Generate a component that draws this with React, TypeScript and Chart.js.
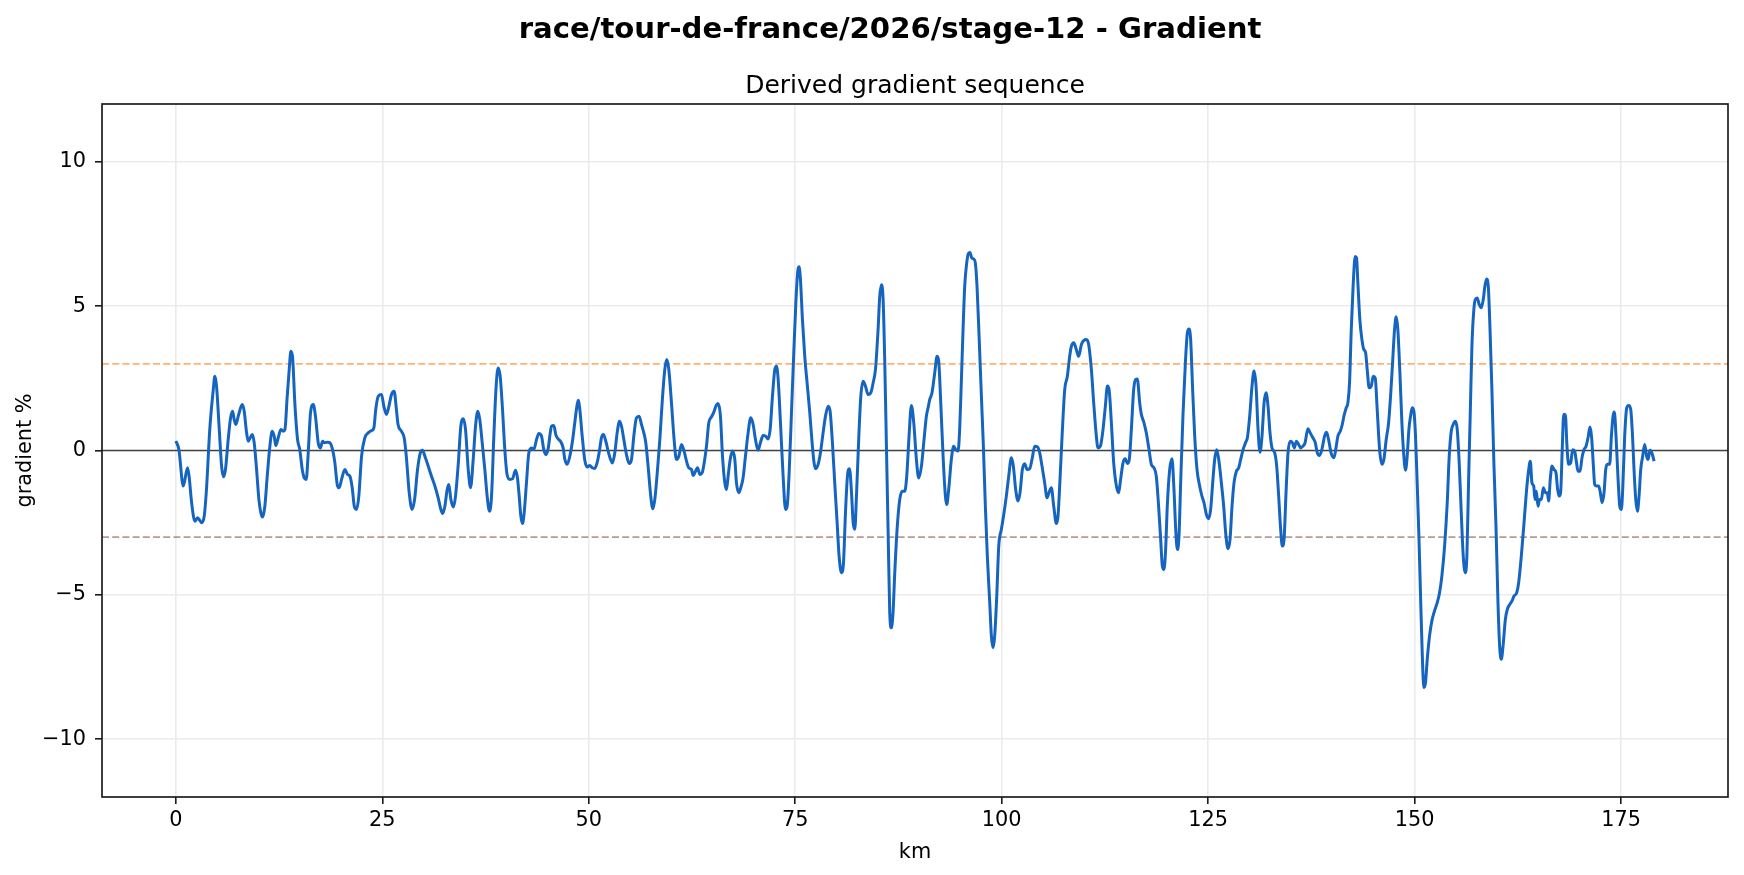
import React, { useEffect, useRef } from "react";
import { Chart, registerables } from "chart.js";

Chart.register(...registerables);

const chartTitle = "race/tour-de-france/2026/stage-12 - Gradient";
const chartSubtitle = "Derived gradient sequence";
const xAxisLabel = "km";
const yAxisLabel = "gradient %";

const xTicks = [0, 25, 50, 75, 100, 125, 150, 175];
const yTicks = [-10, -5, 0, 5, 10];
const thresholdHigh = 3;
const thresholdLow = -3;

const kmValues = [
  0, 0.36, 0.89, 1.41, 1.6, 1.9, 2.3, 2.62, 2.82, 3.1, 3.43, 3.7, 4.1, 4.52, 4.72, 4.92, 5.25, 5.53, 5.77, 6.0,
  6.33, 6.62, 6.86, 7.06, 7.26, 7.55, 8.03, 8.27, 8.56, 8.76, 9.0, 9.24, 9.48, 9.77, 10.05, 10.29, 10.5, 10.77, 11.06, 11.38,
  11.66, 11.9, 12.1, 12.39, 12.71, 12.99, 13.2, 13.48, 13.72, 13.92, 14.12, 14.4, 14.73, 15.0, 15.3, 15.54, 15.78, 16.0, 16.3, 16.63,
  16.9, 17.23, 17.5, 17.76, 18.0, 18.36, 18.64, 18.97, 19.25, 19.57, 19.77, 20.06, 20.46, 20.78, 21.07, 21.35, 21.6, 21.87, 22.15, 22.48,
  22.88, 23.28, 23.69, 23.97, 24.2, 24.5, 24.9, 25.18, 25.5, 25.79, 26.11, 26.43, 26.7, 26.9, 27.3, 27.64, 27.9, 28.25, 28.6, 28.9,
  29.26, 29.58, 29.86, 30.15, 30.55, 30.95, 31.36, 31.76, 32.08, 32.3, 32.57, 32.85, 33.05, 33.3, 33.6, 33.86, 34.2, 34.5, 34.8, 35.07,
  35.4, 35.68, 36.0, 36.28, 36.56, 36.8, 37.09, 37.41, 37.69, 37.97, 38.22, 38.5, 38.78, 39.02, 39.27, 39.55, 39.83, 40.1, 40.44, 40.76,
  41.12, 41.36, 41.57, 41.77, 41.97, 42.17, 42.45, 42.74, 43.06, 43.34, 43.67, 43.95, 44.27, 44.55, 44.8, 45.1, 45.3, 45.48, 45.76, 46.0,
  46.28, 46.57, 46.89, 47.1, 47.38, 47.7, 48.02, 48.3, 48.5, 48.71, 48.91, 49.2, 49.5, 49.8, 50.12, 50.4, 50.73, 51.0, 51.25, 51.53,
  51.77, 52.06, 52.34, 52.66, 52.86, 53.15, 53.43, 53.72, 53.96, 54.24, 54.56, 54.89, 55.17, 55.45, 55.77, 56.09, 56.38, 56.66, 56.9, 57.18,
  57.5, 57.75, 57.99, 58.32, 58.6, 58.88, 59.2, 59.44, 59.69, 60.01, 60.33, 60.61, 60.9, 61.22, 61.54, 61.83, 62.11, 62.44, 62.64, 62.92,
  63.16, 63.45, 63.73, 63.97, 64.25, 64.53, 64.85, 65.14, 65.38, 65.66, 65.94, 66.19, 66.47, 66.67, 66.87, 67.12, 67.4, 67.68, 67.88, 68.16,
  68.4, 68.68, 68.97, 69.29, 69.61, 69.9, 70.18, 70.5, 70.78, 71.1, 71.39, 71.71, 71.96, 72.24, 72.52, 72.73, 72.93, 73.21, 73.53, 73.82,
  74.02, 74.26, 74.54, 74.82, 75.07, 75.3, 75.46, 75.63, 75.87, 76.15, 76.47, 76.76, 77.04, 77.28, 77.48, 77.77, 78.05, 78.37, 78.66, 78.98,
  79.22, 79.5, 79.78, 80.07, 80.31, 80.6, 80.84, 81.08, 81.32, 81.57, 81.81, 82.01, 82.21, 82.41, 82.7, 82.94, 83.22, 83.5, 83.82, 84.15,
  84.43, 84.71, 85.03, 85.23, 85.44, 85.64, 85.84, 86.04, 86.24, 86.44, 86.64, 86.84, 87.05, 87.33, 87.65, 87.97, 88.26, 88.5, 88.78, 89.06,
  89.35, 89.67, 89.95, 90.28, 90.56, 90.88, 91.1, 91.28, 91.56, 91.89, 92.17, 92.37, 92.62, 92.9, 93.18, 93.34, 93.58, 93.9, 94.19, 94.43,
  94.71, 94.91, 95.12, 95.32, 95.52, 95.76, 95.96, 96.16, 96.37, 96.61, 96.81, 97.01, 97.26, 97.54, 97.78, 98.02, 98.26, 98.55, 98.75, 98.95,
  99.15, 99.4, 99.64, 99.96, 100.28, 100.56, 100.85, 101.17, 101.41, 101.69, 101.98, 102.22, 102.5, 102.79, 103.07, 103.39, 103.67, 104.0, 104.32, 104.6,
  104.88, 105.2, 105.49, 105.73, 106.01, 106.3, 106.62, 106.82, 107.06, 107.35, 107.63, 107.95, 108.23, 108.44, 108.72, 109.04, 109.32, 109.65, 109.97, 110.25,
  110.53, 110.86, 111.14, 111.46, 111.66, 111.95, 112.27, 112.55, 112.8, 113.0, 113.28, 113.56, 113.89, 114.16, 114.4, 114.69, 114.97, 115.21, 115.45, 115.7,
  115.98, 116.22, 116.42, 116.71, 116.91, 117.23, 117.51, 117.84, 118.12, 118.44, 118.72, 119.0, 119.25, 119.45, 119.65, 119.85, 120.05, 120.34, 120.62, 120.86,
  121.07, 121.27, 121.47, 121.67, 121.96, 122.24, 122.48, 122.68, 122.88, 123.12, 123.37, 123.65, 123.97, 124.25, 124.5, 124.78, 125.06, 125.3, 125.55, 125.79,
  126.03, 126.28, 126.6, 126.88, 127.12, 127.41, 127.65, 127.89, 128.13, 128.42, 128.7, 128.94, 129.23, 129.55, 129.75, 130.03, 130.31, 130.56, 130.8, 131.04,
  131.28, 131.52, 131.77, 132.01, 132.25, 132.49, 132.73, 133.06, 133.3, 133.54, 133.78, 133.98, 134.19, 134.43, 134.67, 134.95, 135.2, 135.44, 135.68, 135.96,
  136.2, 136.48, 136.72, 137.08, 137.36, 137.68, 137.97, 138.21, 138.49, 138.77, 139.1, 139.34, 139.58, 139.9, 140.23, 140.51, 140.71, 141.0, 141.24, 141.44,
  141.72, 141.92, 142.12, 142.33, 142.57, 142.81, 142.97, 143.13, 143.37, 143.62, 143.86, 144.06, 144.26, 144.5, 144.75, 144.99, 145.23, 145.47, 145.76, 146.04,
  146.28, 146.56, 146.85, 147.09, 147.33, 147.57, 147.77, 147.97, 148.22, 148.46, 148.7, 148.9, 149.1, 149.31, 149.51, 149.71, 149.91, 150.11, 150.31, 150.52,
  150.72, 150.92, 151.12, 151.32, 151.53, 151.81, 152.09, 152.41, 152.74, 153.02, 153.3, 153.63, 153.95, 154.19, 154.44, 154.68, 154.92, 155.16, 155.4, 155.65,
  155.89, 156.13, 156.33, 156.54, 156.74, 156.94, 157.14, 157.34, 157.58, 157.83, 158.07, 158.31, 158.51, 158.72, 158.92, 159.12, 159.36, 159.6, 159.85, 160.1,
  160.3, 160.5, 160.71, 160.99, 161.23, 161.52, 161.8, 162.04, 162.36, 162.6, 162.92, 163.25, 163.53, 163.77, 164.01, 164.21, 164.42, 164.58, 164.74, 164.94,
  165.14, 165.35, 165.59, 165.83, 166.07, 166.23, 166.44, 166.64, 166.88, 167.12, 167.32, 167.52, 167.68, 167.89, 168.05, 168.25, 168.45, 168.65, 168.9, 169.14,
  169.38, 169.58, 169.79, 170.03, 170.27, 170.51, 170.76, 171.0, 171.24, 171.44, 171.65, 171.81, 172.05, 172.29, 172.49, 172.7, 172.94, 173.14, 173.34, 173.62,
  173.83, 174.03, 174.19, 174.39, 174.64, 174.84, 175.04, 175.2, 175.44, 175.69, 175.93, 176.17, 176.37, 176.57, 176.78, 176.98, 177.18, 177.38, 177.62, 177.86,
  178.1, 178.27, 178.51, 178.75, 179.0,
];

const gradientValues = [
  0.33, 0.03, -1.23, -0.6, -0.9, -1.8, -2.45, -2.33, -2.39, -2.5, -2.27, -1.35, 0.73, 2.1, 2.57, 2.23, 0.73, -0.54, -0.91, -0.66,
  0.38, 1.13, 1.36, 1.07, 0.9, 1.19, 1.59, 1.36, 0.61, 0.32, 0.44, 0.55, 0.27, -0.66, -1.7, -2.16, -2.3, -1.93, -0.89, 0.15,
  0.67, 0.5, 0.17, 0.44, 0.73, 0.67, 0.73, 1.88, 2.8, 3.44, 3.26, 1.65, 0.38, 0.03, -0.66, -0.95, -1.0, -0.2, 1.3, 1.59,
  1.19, 0.27, 0.09, 0.32, 0.27, 0.29, 0.27, 0.03, -0.43, -1.23, -1.29, -1.0, -0.66, -0.83, -0.89, -1.29, -1.93, -2.04, -1.58, -0.2,
  0.44, 0.61, 0.69, 0.78, 1.42, 1.88, 1.94, 1.53, 1.25, 1.53, 1.94, 2.05, 1.42, 0.9, 0.67, 0.44, -0.2, -1.46, -2.04, -1.7,
  -0.66, -0.1, 0.01, -0.2, -0.54, -0.89, -1.23, -1.64, -2.04, -2.18, -1.93, -1.35, -1.18, -1.7, -1.96, -1.58, -0.43, 0.84, 1.1, 0.73,
  -0.66, -1.29, -0.31, 0.84, 1.36, 1.07, 0.27, -0.66, -1.58, -2.1, -1.58, 0.5, 2.23, 2.86, 2.57, 1.42, 0.03, -0.83, -1.0, -0.98,
  -0.68, -0.95, -1.58, -2.27, -2.53, -2.16, -1.12, -0.08, 0.09, 0.03, 0.38, 0.59, 0.5, 0.03, -0.14, 0.1, 0.55, 0.84, 0.87, 0.55,
  0.4, 0.32, 0.09, -0.31, -0.48, -0.2, 0.32, 0.96, 1.42, 1.74, 1.42, 0.5, -0.31, -0.57, -0.52, -0.6, -0.62, -0.43, -0.08, 0.44,
  0.55, 0.32, -0.02, -0.33, -0.43, -0.08, 0.61, 1.01, 0.84, 0.38, -0.14, -0.45, -0.31, 0.5, 1.13, 1.19, 0.9, 0.61, 0.27, -0.54,
  -1.58, -2.02, -1.7, -0.66, 0.38, 1.65, 2.8, 3.15, 2.8, 1.65, 0.38, -0.31, -0.2, 0.21, -0.02, -0.37, -0.6, -0.66, -0.87, -0.72,
  -0.6, -0.83, -0.77, -0.43, 0.15, 0.96, 1.16, 1.33, 1.53, 1.63, 1.19, -0.2, -1.12, -1.35, -0.89, -0.31, -0.02, -0.31, -1.12, -1.46,
  -1.29, -0.95, -0.2, 0.61, 1.13, 0.9, 0.38, 0.01, 0.27, 0.52, 0.5, 0.4, 0.73, 1.88, 2.8, 2.92, 2.46, 0.96, -0.89, -2.04,
  -1.93, -0.77, 1.3, 3.38, 5.11, 6.2, 6.36, 5.92, 4.53, 3.26, 2.23, 1.3, 0.27, -0.43, -0.63, -0.48, -0.08, 0.61, 1.19, 1.53,
  1.36, 0.27, -1.12, -2.5, -3.66, -4.23, -3.89, -2.16, -0.89, -0.63, -1.46, -2.5, -2.73, -1.58, 0.5, 1.88, 2.4, 2.23, 1.94, 2.0,
  2.34, 2.8, 4.19, 5.34, 5.74, 5.22, 3.03, 0.15, -2.73, -5.62, -6.14, -5.62, -4.23, -2.73, -1.7, -1.41, -1.41, -0.89, 0.5, 1.56,
  0.96, -0.31, -0.95, -0.54, 0.27, 1.19, 1.5, 1.76, 2.0, 2.69, 3.26, 3.09, 1.65, -0.2, -1.58, -1.87, -1.35, -0.31, 0.15, 0.03,
  -0.02, 0.73, 2.46, 4.19, 5.69, 6.49, 6.82, 6.86, 6.67, 6.63, 6.49, 5.69, 3.96, 1.88, 0.15, -1.93, -3.66, -5.27, -6.42, -6.83,
  -6.42, -5.04, -3.31, -2.73, -2.16, -1.58, -0.89, -0.25, -0.54, -1.35, -1.75, -1.46, -0.66, -0.46, -0.66, -0.63, -0.31, 0.15, 0.13, -0.08,
  -0.54, -1.12, -1.64, -1.46, -1.29, -1.93, -2.53, -2.27, -1.0, 0.73, 2.11, 2.57, 3.26, 3.61, 3.73, 3.49, 3.26, 3.67, 3.82, 3.84,
  3.67, 2.8, 1.65, 0.5, 0.09, 0.15, 0.73, 1.53, 2.23, 2.11, 0.96, -0.43, -1.23, -1.46, -1.0, -0.43, -0.29, -0.45, -0.31, 0.73,
  2.11, 2.46, 2.48, 1.65, 1.25, 0.96, 0.61, 0.03, -0.48, -0.6, -0.89, -1.93, -3.08, -4.0, -4.12, -3.43, -1.93, -0.66, -0.29, -1.35,
  -2.73, -3.43, -2.96, -1.12, 1.3, 3.03, 4.07, 4.21, 3.84, 2.11, 0.5, -0.66, -1.23, -1.58, -1.81, -2.21, -2.36, -2.04, -1.12, -0.31,
  0.03, -0.31, -1.12, -1.93, -2.85, -3.4, -3.08, -1.93, -1.12, -0.72, -0.6, -0.31, 0.03, 0.29, 0.44, 1.19, 2.23, 2.75, 2.23, 0.73,
  -0.06, 0.5, 1.65, 2.0, 1.53, 0.61, 0.09, -0.08, -0.54, -1.58, -2.73, -3.31, -3.08, -1.46, -0.08, 0.32, 0.27, 0.09, 0.32, 0.21,
  0.09, 0.15, 0.25, 0.75, 0.61, 0.44, 0.27, -0.08, -0.17, 0.03, 0.5, 0.63, 0.38, -0.1, -0.25, 0.15, 0.5, 0.67, 0.9, 1.19,
  1.48, 1.65, 2.34, 4.19, 5.8, 6.72, 6.67, 5.8, 4.53, 3.84, 3.49, 3.4, 2.8, 2.17, 2.23, 2.57, 2.51, 1.42, 0.03, -0.48,
  -0.31, 0.38, 0.96, 1.88, 3.03, 4.19, 4.63, 4.19, 2.69, 0.96, -0.2, -0.68, -0.2, 0.73, 1.19, 1.48, 1.36, 0.5, -1.12, -2.96,
  -5.04, -7.0, -8.21, -8.04, -7.23, -6.42, -5.9, -5.56, -5.27, -4.93, -4.35, -3.31, -1.81, -0.2, 0.67, 0.9, 1.01, 0.73, -0.43, -2.16,
  -3.66, -4.23, -3.66, -1.0, 1.3, 3.61, 4.76, 5.22, 5.28, 5.05, 4.94, 5.22, 5.69, 5.94, 5.69, 4.3, 2.11, -0.43, -2.6, -5.3,
  -6.8, -7.23, -6.77, -5.85, -5.5, -5.33, -5.21, -5.04, -4.93, -4.58, -3.66, -2.5, -1.46, -0.77, -0.37, -1.12, -1.23, -1.7, -1.41, -1.93,
  -1.7, -1.7, -1.29, -1.46, -1.46, -1.75, -0.95, -0.54, -0.66, -0.77, -1.35, -1.58, -1.46, 0.15, 1.25, 1.25, 0.15, -0.48, -0.43, 0.03,
  -0.02, -0.37, -0.72, -0.72, -0.25, 0.03, 0.15, 0.44, 0.81, 0.44, -0.54, -1.18, -1.23, -1.23, -1.46, -1.81, -1.46, -0.66, -0.48, -0.48,
  0.5, 1.19, 1.33, 0.5, -1.0, -1.93, -2.04, -1.35, 0.5, 1.48, 1.56, 1.42, 0.61, -0.66, -1.7, -2.1, -1.58, -0.66, -0.2, 0.21,
  -0.2, -0.31, 0.01, -0.1, -0.37,
];

const W = 1744;
const H = 875;
const FONT = "'DejaVu Sans', sans-serif";
const TICK_PX = 20.83;

const fmtMinus = (v: number) => (v < 0 ? "\u2212" + Math.abs(v) : String(v));

const decorPlugin = {
  id: "decor",
  beforeDatasetsDraw(chart: any) {
    const { ctx, chartArea, scales } = chart;
    const y = scales.y;
    ctx.save();
    ctx.beginPath();
    ctx.rect(chartArea.left, chartArea.top, chartArea.right - chartArea.left, chartArea.bottom - chartArea.top);
    ctx.clip();
    // zero line
    const y0 = y.getPixelForValue(0);
    ctx.strokeStyle = "rgba(0,0,0,0.72)";
    ctx.lineWidth = 1.7;
    ctx.beginPath();
    ctx.moveTo(chartArea.left, y0);
    ctx.lineTo(chartArea.right, y0);
    ctx.stroke();
    // thresholds
    ctx.lineWidth = 1.6;
    ctx.setLineDash([7, 3.2]);
    const yh = y.getPixelForValue(thresholdHigh);
    ctx.strokeStyle = "rgba(255,127,14,0.6)";
    ctx.beginPath();
    ctx.moveTo(chartArea.left, yh);
    ctx.lineTo(chartArea.right, yh);
    ctx.stroke();
    const yl = y.getPixelForValue(thresholdLow);
    ctx.strokeStyle = "rgba(140,86,75,0.6)";
    ctx.beginPath();
    ctx.moveTo(chartArea.left, yl);
    ctx.lineTo(chartArea.right, yl);
    ctx.stroke();
    ctx.restore();
  },
  afterDraw(chart: any) {
    const { ctx, chartArea } = chart;
    ctx.save();
    // spines
    ctx.strokeStyle = "#1a1a1a";
    ctx.lineWidth = 1.67;
    ctx.strokeRect(chartArea.left, chartArea.top, chartArea.right - chartArea.left, chartArea.bottom - chartArea.top);
    ctx.fillStyle = "#000";
    // suptitle
    ctx.font = `bold 29.17px ${FONT}`;
    ctx.textAlign = "center";
    ctx.textBaseline = "alphabetic";
    ctx.fillText(chartTitle, 890, 38);
    // subtitle
    ctx.font = `25px ${FONT}`;
    ctx.fillText(chartSubtitle, (chartArea.left + chartArea.right) / 2, 93);
    // x label
    ctx.font = `${TICK_PX}px ${FONT}`;
    ctx.fillText(xAxisLabel, (chartArea.left + chartArea.right) / 2, 858);
    // y label
    ctx.translate(31, (chartArea.top + chartArea.bottom) / 2);
    ctx.rotate(-Math.PI / 2);
    ctx.fillText(yAxisLabel, 0, 0);
    ctx.restore();
  },
};

export default function App() {
  const canvasRef = useRef<HTMLCanvasElement | null>(null);

  useEffect(() => {
    const canvas = canvasRef.current;
    if (!canvas) return;
    const points = kmValues.map((x, i) => ({ x, y: gradientValues[i] }));
    const chart = new Chart(canvas, {
      type: "line",
      data: {
        datasets: [
          {
            data: points,
            borderColor: "#1565c0",
            borderWidth: 3,
            pointRadius: 0,
            fill: false,
            cubicInterpolationMode: "monotone",
          },
        ],
      },
      options: {
        animation: false,
        responsive: false,
        devicePixelRatio: 1,
        layout: { padding: { top: 104, left: 0, right: 16, bottom: 0 } },
        plugins: {
          legend: { display: false },
          title: { display: false },
          tooltip: { enabled: false },
        },
        scales: {
          x: {
            type: "linear",
            min: -8.95,
            max: 187.95,
            afterBuildTicks: (scale: any) => {
              scale.ticks = xTicks.map((v) => ({ value: v }));
            },
            afterFit: (scale: any) => {
              scale.height = H - 797;
            },
            ticks: {
              font: { family: FONT, size: TICK_PX },
              color: "#000",
              padding: 4,
              maxRotation: 0,
              autoSkip: false,
              callback: (v: any) => fmtMinus(Number(v)),
            },
            grid: {
              color: "#ebebeb",
              lineWidth: 1.6,
              tickLength: 7,
              tickColor: "#1a1a1a",
              tickWidth: 1.6,
              drawTicks: true,
            },
            border: { display: false },
          },
          y: {
            type: "linear",
            min: -12,
            max: 12,
            afterBuildTicks: (scale: any) => {
              scale.ticks = yTicks.map((v) => ({ value: v }));
            },
            afterFit: (scale: any) => {
              scale.width = 102;
            },
            ticks: {
              font: { family: FONT, size: TICK_PX },
              color: "#000",
              padding: 9,
              autoSkip: false,
              callback: (v: any) => fmtMinus(Number(v)),
            },
            grid: {
              color: "#ebebeb",
              lineWidth: 1.6,
              tickLength: 7,
              tickColor: "#1a1a1a",
              tickWidth: 1.6,
              drawTicks: true,
            },
            border: { display: false },
          },
        },
      } as any,
      plugins: [decorPlugin],
    });
    return () => chart.destroy();
  }, []);

  return (
    <div style={{ position: "fixed", left: 0, top: 0, width: W, height: H, background: "#fff" }}>
      <canvas ref={canvasRef} width={W} height={H} style={{ display: "block", width: W, height: H }} />
    </div>
  );
}
